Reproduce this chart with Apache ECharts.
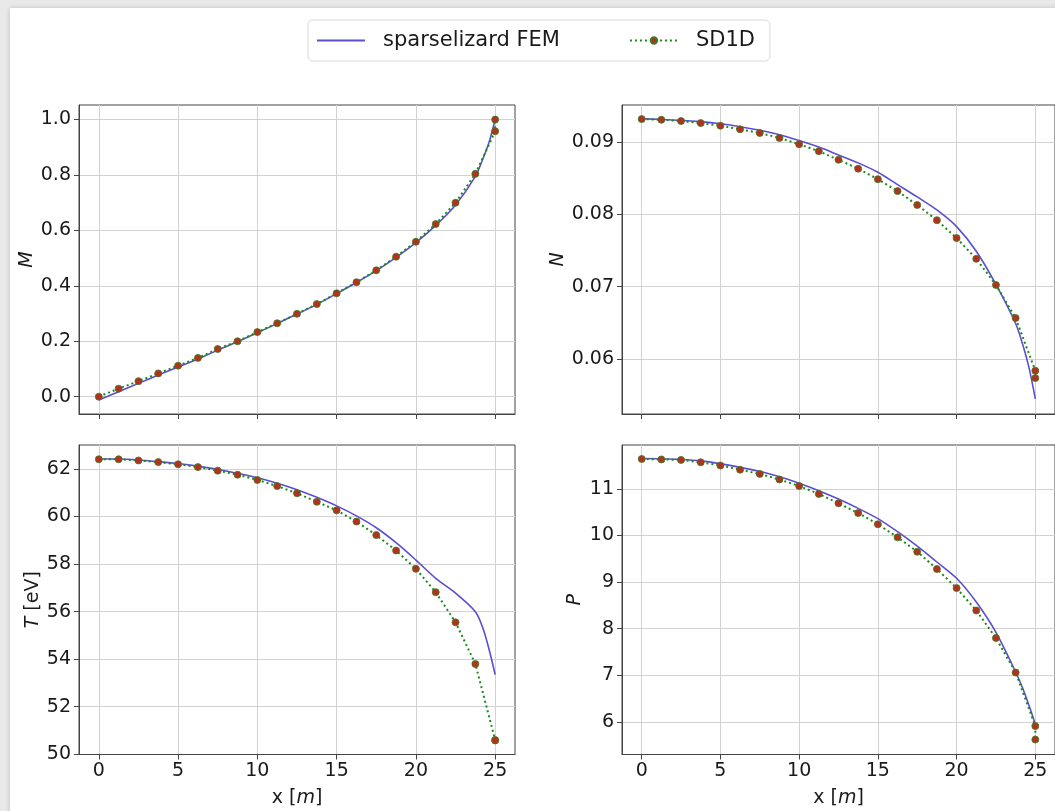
<!DOCTYPE html>
<html><head><meta charset="utf-8">
<script src="https://cdn.jsdelivr.net/npm/echarts@6/dist/echarts.min.js"></script>
<style>
html,body{margin:0;padding:0;width:1055px;height:811px;background:#e9e9e9;overflow:hidden;}
#card{position:absolute;left:10px;top:8px;width:1080px;height:840px;background:#fff;box-shadow:0 0 5px rgba(0,0,0,0.18);}
#chart{position:absolute;left:0;top:0;width:1055px;height:811px;}
</style></head><body><div id="card"></div><div id="chart"></div>
<script>
// SD1D samples (cell grid + boundary value at x = 25)
const xSD = [0,1.25,2.5,3.75,5,6.25,7.5,8.75,10,11.25,12.5,13.75,15,16.25,17.5,18.75,20,21.25,22.5,23.75,25,25];
const mSD = [0.0,0.029,0.056,0.084,0.112,0.140,0.172,0.200,0.233,0.265,0.299,0.334,0.373,0.413,0.456,0.505,0.559,0.623,0.700,0.804,0.958,1.0];
const nSD = [0.09315,0.09306,0.09288,0.0926,0.09224,0.09174,0.09123,0.09055,0.08968,0.08872,0.08753,0.0863,0.08484,0.0832,0.08128,0.07918,0.07671,0.07384,0.07023,0.06566,0.05838,0.05737];
const tSD = [62.41,62.41,62.36,62.29,62.2,62.08,61.93,61.76,61.54,61.28,60.98,60.62,60.26,59.79,59.22,58.57,57.8,56.82,55.55,53.8,50.6,50.58];
const pSD = [11.64,11.63,11.62,11.57,11.50,11.41,11.32,11.20,11.06,10.89,10.69,10.48,10.24,9.96,9.65,9.28,8.87,8.39,7.80,7.06,5.91,5.62];

// sparselizard FEM curve samples
const xFEM = [0,1.25,2.5,3.75,5,6.25,7.5,8.75,10,11.25,12.5,13.75,15,16.25,17.5,18.75,20,21.25,22.5,23.75,24.2,24.6,25];
const mFEM = [-0.012,0.018,0.048,0.078,0.107,0.136,0.168,0.198,0.231,0.264,0.298,0.333,0.372,0.412,0.455,0.503,0.556,0.618,0.692,0.795,0.855,0.915,1.0];
const nFEM = [0.0932,0.0931,0.0930,0.0928,0.0925,0.0921,0.0916,0.0910,0.0902,0.0893,0.0882,0.0871,0.0858,0.0841,0.0824,0.0806,0.0783,0.0749,0.0703,0.0649,0.0620,0.0588,0.0545];
const tFEM = [62.42,62.42,62.38,62.31,62.23,62.12,61.98,61.82,61.63,61.40,61.13,60.81,60.45,60.03,59.53,58.90,58.17,57.40,56.78,56.00,55.35,54.45,53.35];
const pFEM = [11.65,11.645,11.63,11.60,11.54,11.46,11.37,11.26,11.12,10.96,10.78,10.58,10.36,10.08,9.77,9.43,9.08,8.57,7.92,7.07,6.72,6.35,5.95];

// tick values
const xTicks = [0,5,10,15,20,25];
const mTicks = [0,0.2,0.4,0.6,0.8,1.0];
const nTicks = [0.06,0.07,0.08,0.09];
const tTicks = [50,52,54,56,58,60,62];
const pTicks = [6,7,8,9,10,11];
const legendNames = ['sparselizard FEM','SD1D'];

const FONT = 'DejaVu Sans';
const TXT = '#1a1a1a';
const AX = '#454545';
const FEM_COLOR = '#5b4fcf';
const SD_LINE = '#1a8a1a';
const SD_MARK = '#b3321d';

function pairs(xs, ys){ return xs.map((x,i)=>[x, ys[i]]); }
function stepFmt(step, dec){
  return function(v){
    const k = v/step;
    if (Math.abs(k - Math.round(k)) > 1e-6) return '';
    return (Math.round(k)*step).toFixed(dec);
  };
}

const grids = [
  {left:79, top:105, width:436, height:309},
  {left:622, top:105, width:437, height:309},
  {left:79, top:445, width:436, height:309.5},
  {left:622, top:445, width:437, height:309.5}
].map(g => Object.assign({show:true, borderColor:AX, borderWidth:1, backgroundColor:'transparent'}, g));

const nameStyle = {fontSize:19, fontFamily:FONT, color:TXT, rich:{it:{fontStyle:'italic', fontSize:19, fontFamily:FONT, color:TXT}}};

function xAxis(i, showLabels){
  const a = {
    type:'value', gridIndex:i, min:-1.25, max:26.25, splitNumber:5,
    axisLine:{show:true, onZero:false, lineStyle:{color:AX, width:1}},
    axisTick:{show:true, inside:false, length:5, lineStyle:{color:AX}, customValues:xTicks},
    splitLine:{show:true, lineStyle:{color:'#d2d2d2', width:1}},
    axisLabel:{show:showLabels, margin:7, fontSize:19, fontFamily:FONT, color:TXT, formatter:stepFmt(5,0), customValues:xTicks}
  };
  if (showLabels){
    a.name = 'x [{it|m}]';
    a.nameLocation = 'middle';
    a.nameGap = 34;
    a.nameTextStyle = nameStyle;
  }
  return a;
}
function yAxis(i, min, max, split, step, dec, ticks, name, gap){
  return {
    type:'value', gridIndex:i, min:min, max:max, splitNumber:split,
    axisLine:{show:true, onZero:false, lineStyle:{color:AX, width:1}},
    axisTick:{show:true, inside:false, length:5, lineStyle:{color:AX}, customValues:ticks},
    splitLine:{show:true, lineStyle:{color:'#d2d2d2', width:1}},
    axisLabel:{margin:8, fontSize:19, fontFamily:FONT, color:TXT, formatter:stepFmt(step,dec), customValues:ticks},
    name:name, nameLocation:'middle', nameGap:gap, nameRotate:90,
    nameTextStyle:nameStyle
  };
}

const xAxes = [xAxis(0,false), xAxis(1,false), xAxis(2,true), xAxis(3,true)];
const yAxes = [
  yAxis(0, -0.0625, 1.0525, 5, 0.2, 1, mTicks, '{it|M}', 38),
  yAxis(1, 0.0524, 0.0951, 5, 0.01, 2, nTicks, '{it|N}', 52),
  yAxis(2, 49.99, 63.01, 6, 2, 0, tTicks, '{it|T} [eV]', 35),
  yAxis(3, 5.3, 11.94, 5, 1, 0, pTicks, '{it|P}', 37)
];

const femData = [mFEM, nFEM, tFEM, pFEM];
const sdData = [mSD, nSD, tSD, pSD];
const series = [];
for (let i=0;i<4;i++){
  series.push({
    name:legendNames[0], type:'line', xAxisIndex:i, yAxisIndex:i,
    data:pairs(xFEM, femData[i]), symbol:'none', smooth:0.3,
    lineStyle:{color:FEM_COLOR, width:1.6}, itemStyle:{color:FEM_COLOR}, z:2
  });
  series.push({
    name:legendNames[1], type:'line', xAxisIndex:i, yAxisIndex:i,
    data:pairs(xSD, sdData[i]), symbol:'circle', symbolSize:7, showSymbol:true,
    lineStyle:{color:SD_LINE, width:2, type:[2,3]},
    itemStyle:{color:SD_MARK, borderColor:'#3d7a25', borderWidth:0.8}, z:3
  });
}

const chart = echarts.init(document.getElementById('chart'), null, {renderer:'canvas'});
chart.setOption({
  animation:false,
  backgroundColor:'transparent',
  textStyle:{fontFamily:FONT},
  legend:{
    data:[{name:legendNames[0], itemStyle:{opacity:0}}, {name:legendNames[1]}],
    left:308, top:20, orient:'horizontal',
    itemWidth:48, itemHeight:8, itemGap:69, padding:[10,15,10,8],
    borderColor:'#d8d8d8', borderWidth:1, borderRadius:5, backgroundColor:'#fff',
    textStyle:{fontSize:21, fontFamily:FONT, color:TXT, padding:[0,0,0,13]}
  },
  grid:grids, xAxis:xAxes, yAxis:yAxes, series:series
});
</script></body></html>
